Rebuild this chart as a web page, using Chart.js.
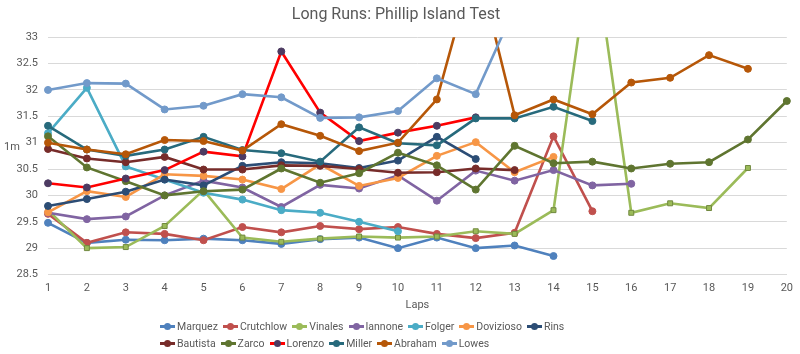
<!DOCTYPE html>
<html>
<head>
<meta charset="utf-8">
<script src="https://cdn.jsdelivr.net/npm/chart.js@4/dist/chart.umd.min.js"></script>
<style>
  body { margin: 0; background: #fff; }
  #wrap { position: relative; width: 800px; height: 354px; font-family: Roboto, sans-serif; color: #595959; }
  #ylab { position: absolute; left: 4px; top: 140px; font-size: 11px; }
  #legend { position: absolute; left: 160px; top: 318px; font-size: 10.5px; }
  .row { display: flex; height: 17px; align-items: center; }
  .item { display: flex; align-items: center; margin-right: 5px; }
  .mk { position: relative; width: 15px; height: 3px; margin-right: 2px; }
  .mk span { position: absolute; left: 4px; top: -2px; width: 7px; height: 7px; border-radius: 50%; }
</style>
</head>
<body>
<div id="wrap">
  <canvas id="chart" width="800" height="354"></canvas>
  <div id="ylab">1m</div>
  <div id="legend"></div>
</div>
<script>
// lap numbers on the x axis
const laps = ['1', '2', '3', '4', '5', '6', '7', '8', '9', '10', '11', '12', '13', '14', '15', '16', '17', '18', '19', '20'];

// lap times per rider (null = no lap)
const marquez   = [29.48, 29.10, 29.16, 29.15, 29.18, 29.15, 29.08, 29.17, 29.20, 29.00, 29.20, 29.00, 29.05, 28.85];
const crutchlow = [29.65, 29.10, 29.30, 29.27, 29.15, 29.40, 29.30, 29.42, 29.36, 29.40, 29.27, 29.19, 29.29, 31.12, 29.70];
const vinales   = [29.72, 29.00, 29.02, 29.42, 30.10, 29.20, 29.12, 29.18, 29.22, 29.20, 29.22, 29.32, 29.27, 29.72, 34.90, 29.67, 29.85, 29.76, 30.52];
const iannone   = [29.67, 29.55, 29.60, 30.00, 30.28, 30.15, 29.78, 30.20, 30.13, 30.38, 29.90, 30.47, 30.28, 30.48, 30.19, 30.22];
const folger    = [31.18, 32.04, 30.55, 30.30, 30.05, 29.92, 29.72, 29.67, 29.50, 29.32];
const dovizioso = [29.68, 30.08, 29.97, 30.40, 30.37, 30.30, 30.12, 30.59, 30.18, 30.33, 30.75, 31.01, 30.44, 30.73];
const rins      = [29.80, 29.93, 30.07, 30.30, 30.19, 30.56, 30.63, 30.61, 30.52, 30.66, 31.11, 30.69];
const bautista  = [30.88, 30.70, 30.63, 30.73, 30.49, 30.49, 30.57, 30.56, 30.50, 30.43, 30.44, 30.51, 30.48];
const zarco     = [31.12, 30.53, 30.27, 30.00, 30.08, 30.11, 30.51, 30.24, 30.42, 30.81, 30.57, 30.11, 30.94, 30.61, 30.64, 30.51, 30.60, 30.63, 31.06, 31.79];
const lorenzo   = [30.23, 30.15, 30.32, 30.48, 30.83, 30.74, 32.73, 31.57, 31.03, 31.19, 31.32, 31.48];
const miller    = [31.32, 30.87, 30.75, 30.87, 31.11, 30.86, 30.80, 30.64, 31.29, 30.99, 30.95, 31.46, 31.46, 31.68, 31.41];
const abraham   = [31.00, 30.87, 30.78, 31.05, 31.03, 30.85, 31.35, 31.13, 30.84, 31.00, 31.82, 34.50, 31.52, 31.82, 31.54, 32.14, 32.23, 32.66, 32.40];
const lowes     = [32.00, 32.13, 32.12, 31.63, 31.70, 31.92, 31.86, 31.47, 31.48, 31.60, 32.22, 31.92, 33.55];

const riders = [
  { name: 'Marquez',   data: marquez,   line: '#4F81BD', dot: '#4F81BD' },
  { name: 'Crutchlow', data: crutchlow, line: '#C0504D', dot: '#C0504D' },
  { name: 'Vinales',   data: vinales,   line: '#9BBB59', dot: '#9BBB59', square: true },
  { name: 'Iannone',   data: iannone,   line: '#8064A2', dot: '#8064A2' },
  { name: 'Folger',    data: folger,    line: '#4BACC6', dot: '#4BACC6' },
  { name: 'Dovizioso', data: dovizioso, line: '#F79646', dot: '#F79646' },
  { name: 'Rins',      data: rins,      line: '#2C4D75', dot: '#2C4D75' },
  { name: 'Bautista',  data: bautista,  line: '#772C2A', dot: '#772C2A' },
  { name: 'Zarco',     data: zarco,     line: '#5F7530', dot: '#5F7530' },
  { name: 'Lorenzo',   data: lorenzo,   line: '#FF0000', dot: '#4D3B62' },
  { name: 'Miller',    data: miller,    line: '#276A7C', dot: '#276A7C' },
  { name: 'Abraham',   data: abraham,   line: '#B65708', dot: '#B65708' },
  { name: 'Lowes',     data: lowes,     line: '#729ACA', dot: '#729ACA' }
];

const font = "Roboto, sans-serif";

const datasets = riders.map((r, i) => ({
  label: r.name,
  data: r.data,
  borderColor: r.line,
  backgroundColor: r.dot,
  pointBackgroundColor: r.dot,
  pointBorderColor: r.square ? '#71893F' : r.dot,
  pointBorderWidth: 1,
  pointStyle: r.square ? 'rect' : 'circle',
  pointRadius: 3.5,
  borderWidth: 2.6,
  tension: 0,
  order: riders.length - i // later riders drawn on top, like Excel
}));

new Chart(document.getElementById('chart'), {
  type: 'line',
  data: { labels: laps, datasets: datasets },
  options: {
    responsive: false,
    animation: false,
    layout: { padding: { left: 0, right: 8, top: 0, bottom: 40 } },
    plugins: {
      legend: { display: false },
      tooltip: { enabled: false },
      title: {
        display: true,
        text: 'Long Runs: Phillip Island Test',
        color: '#595959',
        font: { family: font, size: 16, weight: 'normal' },
        padding: { top: 5, bottom: 13 }
      }
    },
    scales: {
      x: {
        offset: false,
        grid: { display: false, drawTicks: false },
        border: { display: true, color: '#D9D9D9' },
        ticks: { color: '#595959', font: { family: font, size: 11 }, padding: 7, maxRotation: 0, autoSkip: false },
        title: { display: true, text: 'Laps', color: '#595959', font: { family: font, size: 11 }, padding: { top: 4, bottom: 2 } },
        afterFit: s => { s.height = 39.5; }
      },
      y: {
        min: 28.5,
        max: 33,
        ticks: {
          stepSize: 0.5,
          color: '#595959',
          font: { family: font, size: 11 },
          padding: 10,
          callback: v => String(Math.round(v * 10) / 10)
        },
        grid: { color: '#D9D9D9', drawTicks: false },
        border: { display: false },
        afterFit: s => { s.width = 48; }
      }
    }
  }
});

// legend in two rows, line with marker like Excel
const legend = document.getElementById('legend');
[riders.slice(0, 7), riders.slice(7)].forEach(group => {
  const row = document.createElement('div');
  row.className = 'row';
  group.forEach(r => {
    const item = document.createElement('div');
    item.className = 'item';
    const mk = document.createElement('div');
    mk.className = 'mk';
    mk.style.background = r.line;
    const dot = document.createElement('span');
    dot.style.background = r.dot;
    mk.appendChild(dot);
    const txt = document.createElement('span');
    txt.textContent = r.name;
    item.appendChild(mk);
    item.appendChild(txt);
    row.appendChild(item);
  });
  legend.appendChild(row);
});
</script>
</body>
</html>
